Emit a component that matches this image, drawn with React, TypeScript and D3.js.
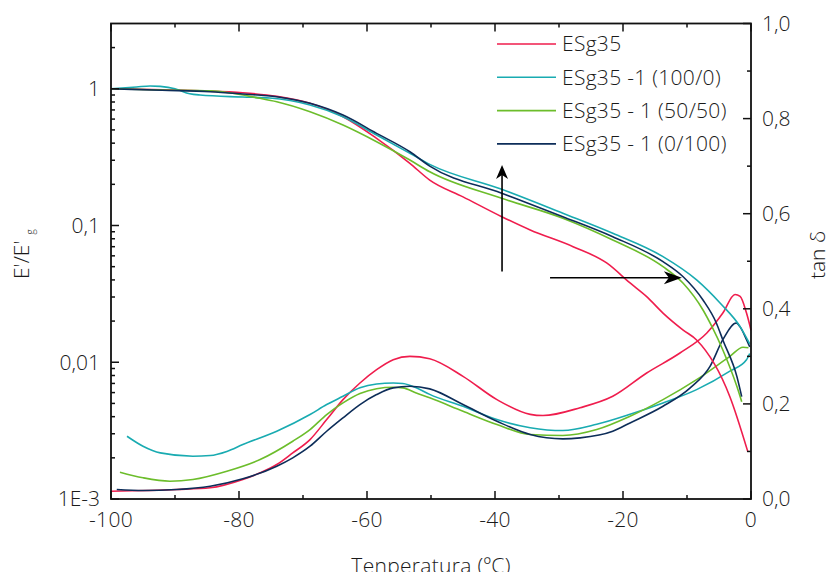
import React from "react";
import * as d3 from "d3";

// ---------- data ----------
const seriesNames = ["ESg35", "ESg35 -1 (100/0)", "ESg35 - 1 (50/50)", "ESg35 - 1 (0/100)"];
const seriesColors = ["#ef1d4d", "#19abb1", "#6cbd2b", "#0d2d59"];

// E'/E'g  (temperature °C, ratio) – left log axis
const modRed: [number, number][] = [
  [-100, 1], [-86.1, 0.967], [-79.4, 0.935], [-74.1, 0.88], [-68.9, 0.782], [-63.75, 0.624],
  [-58.5, 0.434], [-53.3, 0.285], [-50.2, 0.215], [-45, 0.162], [-38.95, 0.116], [-34.5, 0.0927],
  [-27.8, 0.07], [-22.5, 0.053], [-18.9, 0.038], [-16.3, 0.0302], [-13.75, 0.0229], [-10.6, 0.0172],
  [-8.5, 0.01455], [-3.3, 0.0056], [-0.5, 0.00222],
];
const modTeal: [number, number][] = [
  [-100, 1], [-96, 1.03], [-93.9, 1.048], [-92.3, 1.04], [-90, 1.0], [-87.7, 0.92], [-86.1, 0.9],
  [-79.4, 0.87], [-75.2, 0.855], [-68.9, 0.76], [-63.75, 0.624], [-58.5, 0.459], [-53.3, 0.337],
  [-50.2, 0.28], [-38.95, 0.184], [-29.4, 0.123], [-21.6, 0.0877], [-13.75, 0.0592], [-8.5, 0.04],
  [-4.8, 0.027], [-1.7, 0.0182], [-0.2, 0.0136],
];
const modGreen: [number, number][] = [
  [-100, 1], [-92, 0.98], [-84.5, 0.967], [-76.7, 0.851], [-74.1, 0.804], [-68.9, 0.679],
  [-63.75, 0.543], [-58.5, 0.41], [-53.3, 0.301], [-50.2, 0.247], [-38.95, 0.158], [-29.4, 0.113],
  [-21.6, 0.0783], [-13.75, 0.05], [-10.6, 0.0378], [-7.5, 0.0241], [-6.1, 0.0182], [-4.4, 0.0123],
  [-2.2, 0.00664], [-1.45, 0.00515],
];
const modNavy: [number, number][] = [
  [-100, 1], [-92, 0.975], [-84.5, 0.951], [-79.4, 0.915], [-74.1, 0.874], [-68.9, 0.782],
  [-63.75, 0.642], [-58.5, 0.472], [-53.3, 0.346], [-50.2, 0.272], [-38.95, 0.172], [-29.4, 0.116],
  [-21.6, 0.0828], [-13.75, 0.0544], [-10.6, 0.0422], [-7.5, 0.0285], [-5.4, 0.0193], [-4.4, 0.01455],
  [-2.2, 0.00785], [-1.45, 0.0056],
];

// tan δ  (temperature °C, tan δ) – right linear axis
const tanRed: [number, number][] = [
  [-100, 0.0164], [-89.7, 0.02], [-84.5, 0.0235], [-79.4, 0.041], [-76.7, 0.055], [-74.1, 0.0725],
  [-71.6, 0.097], [-68.9, 0.125], [-66.3, 0.167], [-63.75, 0.209], [-61.1, 0.244], [-58.5, 0.272],
  [-55.9, 0.293], [-53.3, 0.3], [-50.2, 0.295], [-45, 0.258], [-39.7, 0.209], [-34.5, 0.178],
  [-32.5, 0.1755], [-26.7, 0.192], [-21.6, 0.216], [-16.3, 0.265], [-11.1, 0.307], [-6.9, 0.349],
  [-4.4, 0.391], [-2.5, 0.43], [-1.7, 0.426], [-0.7, 0.391], [0, 0.355],
];
const tanTeal: [number, number][] = [
  [-97.5, 0.132], [-95, 0.111], [-92.3, 0.097], [-87.2, 0.09], [-84.5, 0.0914], [-81.9, 0.1],
  [-79.4, 0.1145], [-74.1, 0.1425], [-68.9, 0.1776], [-66.3, 0.1986], [-63.75, 0.216], [-61.1, 0.234],
  [-58.5, 0.242], [-55.9, 0.244], [-54.4, 0.243], [-52.3, 0.234], [-50.2, 0.22], [-45, 0.195],
  [-39.7, 0.167], [-34.5, 0.15], [-29.4, 0.144], [-24.1, 0.157], [-18.9, 0.178], [-13.75, 0.202],
  [-8.5, 0.23], [-3.3, 0.269], [-0.7, 0.293], [-0.2, 0.306],
];
const tanGreen: [number, number][] = [
  [-98.6, 0.0563], [-95, 0.0446], [-90.8, 0.0374], [-87.2, 0.041], [-81.9, 0.0584], [-76.7, 0.083],
  [-71.6, 0.1215], [-68.9, 0.146], [-66.3, 0.1776], [-63.75, 0.202], [-61.1, 0.2217], [-58.5, 0.232],
  [-55.9, 0.235], [-54.4, 0.2337], [-52.3, 0.223], [-50.2, 0.2127], [-45, 0.1845], [-39.7, 0.1566],
  [-34.5, 0.1356], [-29.4, 0.1335], [-24.1, 0.146], [-18.9, 0.174], [-13.75, 0.209], [-8.5, 0.251],
  [-3.3, 0.3], [-1.25, 0.319], [-0.4, 0.318],
];
const tanNavy: [number, number][] = [
  [-99.1, 0.02], [-95, 0.0179], [-89.7, 0.02], [-84.5, 0.0269], [-79.4, 0.0425], [-74.1, 0.069],
  [-71.6, 0.0866], [-68.9, 0.111], [-66.3, 0.1425], [-63.75, 0.1707], [-61.1, 0.1986], [-58.5, 0.2196],
  [-55.9, 0.2337], [-53.3, 0.237], [-50.2, 0.2316], [-45, 0.1986], [-39.7, 0.1635], [-34.5, 0.1356],
  [-29.4, 0.1265], [-26.7, 0.1286], [-21.6, 0.1425], [-18.9, 0.16], [-13.75, 0.195], [-9.5, 0.2337],
  [-6.4, 0.279], [-4.4, 0.335], [-2.3, 0.37], [-1.7, 0.362], [-0.7, 0.335], [-0.2, 0.32],
];

const xTicksMajor = [-100, -80, -60, -40, -20, 0];
const xTicksMinor = [-90, -70, -50, -30, -10];
const yLeftMajor = [0.001, 0.01, 0.1, 1];
const yLeftLabels = ["1E-3", "0,01", "0,1", "1"];
const yRightMajor = [0, 0.2, 0.4, 0.6, 0.8, 1.0];
const yRightLabels = ["0,0", "0,2", "0,4", "0,6", "0,8", "1,0"];
const yRightMinor = [0.1, 0.3, 0.5, 0.7, 0.9];

// arrows: [T, E'/E'g]
const arrowUp: [number, number][] = [[-38.9, 0.046], [-38.9, 0.277]];
const arrowRight: [number, number][] = [[-31.4, 0.0415], [-10.8, 0.0415]];

export default function App() {
  const W = 830, H = 572;
  const L = 111, R = 751, T = 23.5, B = 499;
  const x = d3.scaleLinear().domain([-100, 0]).range([L, R]);
  const yL = d3.scaleLog().domain([1e-3, 3]).range([B, T]);
  const yR = d3.scaleLinear().domain([0, 1]).range([B, T]);

  const lineL = d3.line<[number, number]>().x(d => x(d[0])).y(d => yL(d[1])).curve(d3.curveMonotoneX);
  const lineR = d3.line<[number, number]>().x(d => x(d[0])).y(d => yR(d[1])).curve(d3.curveMonotoneX);

  const mods = [modRed, modTeal, modGreen, modNavy];
  const tans = [tanRed, tanTeal, tanGreen, tanNavy];

  const leftMinor: number[] = [];
  [0.001, 0.01, 0.1, 1].forEach(dec => {
    for (let k = 2; k <= 9; k++) {
      const v = dec * k;
      if (v < 3) leftMinor.push(v);
    }
  });

  const font = "'Open Sans', 'DejaVu Sans', sans-serif";
  const textColor = "#1a1a1a";
  const fs = 21;
  const ls = 0.3;

  const arrowHeadUp = (px: number, py: number) =>
    `M${px},${py} L${px - 6},${py + 14} L${px},${py + 10} L${px + 6},${py + 14} Z`;
  const arrowHeadRight = (px: number, py: number) =>
    `M${px},${py} L${px - 18},${py - 6.5} L${px - 13},${py} L${px - 18},${py + 6.5} Z`;

  const ux = x(arrowUp[0][0]);
  const uy0 = yL(arrowUp[0][1]);
  const uy1 = yL(arrowUp[1][1]);
  const rx0 = x(arrowRight[0][0]);
  const rx1 = x(arrowRight[1][0]);
  const ry = yL(arrowRight[0][1]);

  return (
    <svg width={W} height={H} style={{ position: "absolute", left: 0, top: 0, background: "#fff" }}
      fontFamily={font}>
      <rect x={0} y={0} width={W} height={H} fill="#fff" />
      {/* data lines */}
      {tans.map((d, i) => (
        <path key={"t" + i} d={lineR(d) || ""} fill="none" stroke={seriesColors[i]} strokeWidth={1.6} />
      ))}
      {mods.map((d, i) => (
        <path key={"m" + i} d={lineL(d) || ""} fill="none" stroke={seriesColors[i]} strokeWidth={1.6} />
      ))}

      {/* frame */}
      <rect x={L} y={T} width={R - L} height={B - T} fill="none" stroke="#111" strokeWidth={1.8} />

      {/* x ticks bottom & top */}
      {xTicksMajor.map(t => (
        <g key={"xM" + t}>
          <line x1={x(t)} x2={x(t)} y1={B} y2={B - 8} stroke="#111" strokeWidth={1.5} />
          <line x1={x(t)} x2={x(t)} y1={T} y2={T + 8} stroke="#111" strokeWidth={1.5} />
          <text x={x(t)} y={527} textAnchor="middle" fontSize={fs} letterSpacing={ls} fill={textColor} fontWeight={300}>
            {t}
          </text>
        </g>
      ))}
      {xTicksMinor.map(t => (
        <g key={"xm" + t}>
          <line x1={x(t)} x2={x(t)} y1={B} y2={B - 4} stroke="#111" strokeWidth={1.5} />
          <line x1={x(t)} x2={x(t)} y1={T} y2={T + 4} stroke="#111" strokeWidth={1.5} />
        </g>
      ))}

      {/* left axis */}
      {yLeftMajor.map((v, i) => (
        <g key={"yl" + v}>
          <line x1={L} x2={L + 8} y1={yL(v)} y2={yL(v)} stroke="#111" strokeWidth={1.5} />
          <text x={100} y={yL(v)} dy="0.35em" textAnchor="end" fontSize={fs} fill={textColor} fontWeight={300}>
            {yLeftLabels[i]}
          </text>
        </g>
      ))}
      {leftMinor.map(v => (
        <line key={"ylm" + v} x1={L} x2={L + 4} y1={yL(v)} y2={yL(v)} stroke="#111" strokeWidth={1.5} />
      ))}

      {/* right axis */}
      {yRightMajor.map((v, i) => (
        <g key={"yr" + v}>
          <line x1={R} x2={R - 8} y1={yR(v)} y2={yR(v)} stroke="#111" strokeWidth={1.5} />
          <text x={762} y={yR(v)} dy="0.35em" textAnchor="start" fontSize={fs} fill={textColor} fontWeight={300}>
            {yRightLabels[i]}
          </text>
        </g>
      ))}
      {yRightMinor.map(v => (
        <line key={"yrm" + v} x1={R} x2={R - 4} y1={yR(v)} y2={yR(v)} stroke="#111" strokeWidth={1.5} />
      ))}

      {/* axis titles */}
      <text x={431} y={573} textAnchor="middle" fontSize={fs} letterSpacing={ls} fill={textColor} fontWeight={300}>
        Tenperatura (ºC)
      </text>
      <text transform="translate(29,279) rotate(-90)" fontSize={fs} fill={textColor} fontWeight={300}>
        E'/E'
        <tspan dx={6} dy={5} fontSize={10}>g</tspan>
      </text>
      <text transform="translate(825,255) rotate(-90)" textAnchor="middle" fontSize={fs} fill={textColor} fontWeight={300}>
        tan δ
      </text>

      {/* legend */}
      {seriesNames.map((n, i) => {
        const ly = 44 + i * 33.3;
        return (
          <g key={"lg" + i}>
            <line x1={497} x2={556} y1={ly} y2={ly} stroke={seriesColors[i]} strokeWidth={1.6} />
            <text x={562} y={ly} dy="0.35em" fontSize={fs} letterSpacing={ls} fill={textColor} fontWeight={300}>
              {n}
            </text>
          </g>
        );
      })}

      {/* arrows */}
      <line x1={ux} x2={ux} y1={uy0} y2={uy1 + 8} stroke="#000" strokeWidth={1.6} />
      <path d={arrowHeadUp(ux, uy1)} fill="#000" />
      <line x1={rx0} x2={rx1 - 10} y1={ry} y2={ry} stroke="#000" strokeWidth={1.6} />
      <path d={arrowHeadRight(rx1, ry)} fill="#000" />
    </svg>
  );
}
